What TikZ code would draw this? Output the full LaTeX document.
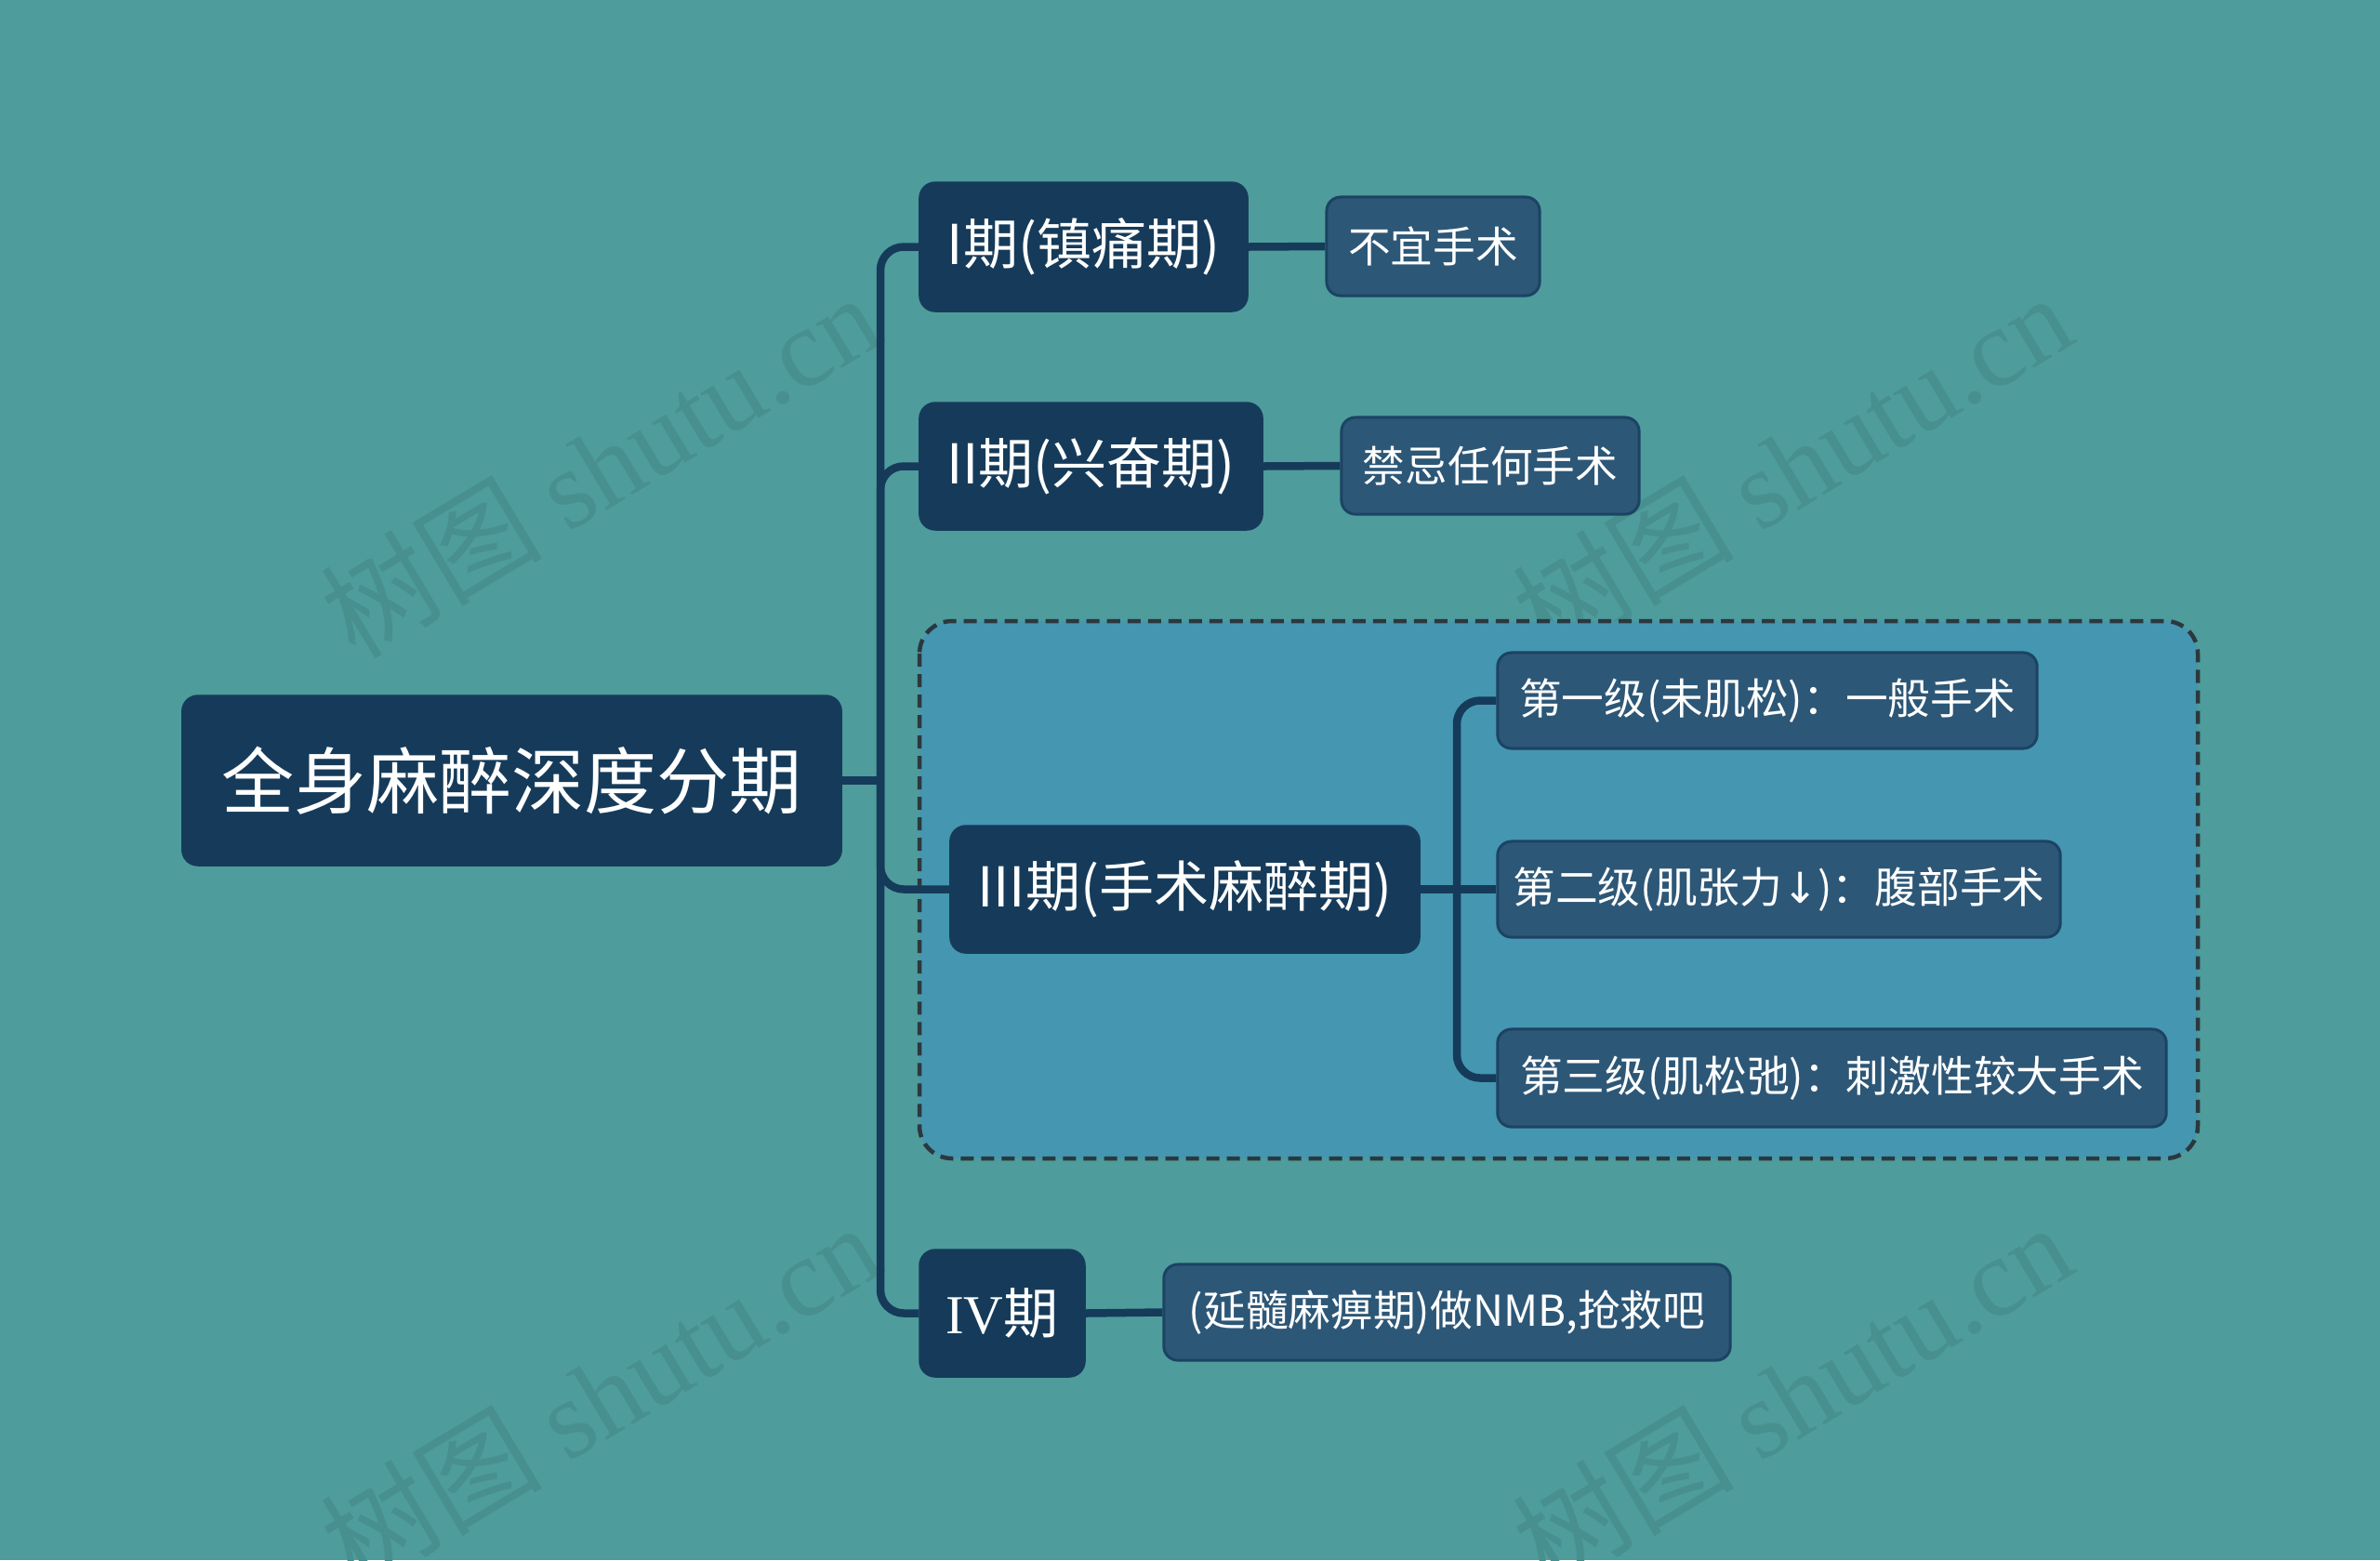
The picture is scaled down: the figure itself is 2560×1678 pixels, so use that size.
\documentclass[tikz,border=0pt]{standalone}
\usepackage{fontspec}
\setmainfont{Noto Sans CJK SC}
\newfontfamily\serifl{Liberation Serif}
\newfontfamily\arrowfont{DejaVu Sans}
\definecolor{bg}{HTML}{4E9C9C}
\definecolor{mainfill}{HTML}{163B5A}
\definecolor{subfill}{HTML}{2D5777}
\definecolor{subdraw}{HTML}{1C4363}
\definecolor{grpfill}{HTML}{4596B0}
\definecolor{grpdraw}{HTML}{2B383D}
\definecolor{wm}{HTML}{47908F}
\tikzset{
  mainbox/.style={fill=mainfill, draw=mainfill, rounded corners=0.17cm, text=white, inner sep=0pt, align=center},
  subbox/.style={fill=subfill, draw=subdraw, line width=0.03cm, rounded corners=0.15cm, text=white, inner sep=0pt, align=center, font=\fontsize{13pt}{15pt}\selectfont},
  conn/.style={draw=mainfill, line width=0.085cm, rounded corners=0.25cm},
  wmark/.style={text=wm, rotate=31, inner sep=0pt}
}
\begin{document}
\begin{tikzpicture}[x=0.01cm,y=-0.01cm]
\fill[bg] (0,0) rectangle (2560,1678);
\useasboundingbox (0,0) rectangle (2560,1678);
% watermarks
\foreach \i/\px/\py in {1/645/500, 2/1927/500, 3/645/1500, 4/1927/1500}{
  \node[wmark] (wm\i) at (\px,\py) {\fontsize{34pt}{40pt}\selectfont 树图 {\serifl shutu.cn}};
}
% group box
\draw[fill=grpfill, draw=grpdraw, line width=0.045cm, dash pattern=on 0.14cm off 0.08cm, rounded corners=0.35cm] (989,668) rectangle (2364,1246);
% nodes
\node[mainbox, minimum width=7.09cm, minimum height=1.83cm, font=\fontsize{22.2pt}{26pt}\selectfont] (root) at (550.5,839.5) {全身麻醉深度分期};
\node[mainbox, minimum width=3.53cm, minimum height=1.39cm, font=\fontsize{16.8pt}{20pt}\selectfont] (n1) at (1165.5,265.5) {I期(镇痛期)};
\node[mainbox, minimum width=3.69cm, minimum height=1.37cm, font=\fontsize{16.8pt}{20pt}\selectfont] (n2) at (1173.5,501.5) {II期(兴奋期)};
\node[mainbox, minimum width=5.05cm, minimum height=1.37cm, font=\fontsize{16.8pt}{20pt}\selectfont] (n3) at (1274.5,956.5) {III期(手术麻醉期)};
\node[mainbox, minimum width=1.78cm, minimum height=1.37cm, font=\fontsize{16.8pt}{20pt}\selectfont] (n4) at (1078,1412.5) {{\serifl IV}期};
\node[subbox, minimum width=2.29cm, minimum height=1.06cm] (n1a) at (1541.5,265) {不宜手术};
\node[subbox, minimum width=3.20cm, minimum height=1.04cm] (n2a) at (1603,501) {禁忌任何手术};
\node[subbox, minimum width=5.80cm, minimum height=1.03cm] (n31) at (1901,753.5) {第一级(未肌松)：一般手术};
\node[subbox, minimum width=6.05cm, minimum height=1.03cm] (n32) at (1913.5,956.5) {第二级(肌张力{\arrowfont ↓})：腹部手术};
\node[subbox, minimum width=7.19cm, minimum height=1.05cm] (n33) at (1970.5,1159.5) {第三级(肌松弛)：刺激性较大手术};
\node[subbox, minimum width=6.09cm, minimum height=1.03cm] (n4a) at (1556.5,1411.5) {(延髓麻痹期)做NMB,抢救吧};
% connectors
\coordinate (t) at (947,839.5);
\coordinate (u) at (1567,956.5);
\draw[conn] (root.east) -- (t);
\draw[conn] (t) |- (n1.west);
\draw[conn] (t) |- (n2.west);
\draw[conn] (t) |- (n3.west);
\draw[conn] (t) |- (n4.west);
\draw[conn] (n1.east) -- (n1a.west);
\draw[conn] (n2.east) -- (n2a.west);
\draw[conn] (n4.east) -- (n4a.west);
\draw[conn] (n3.east) -- (u);
\draw[conn] (u) |- (n31.west);
\draw[conn] (u) -- (n32.west);
\draw[conn] (u) |- (n33.west);
\end{tikzpicture}
\end{document}
